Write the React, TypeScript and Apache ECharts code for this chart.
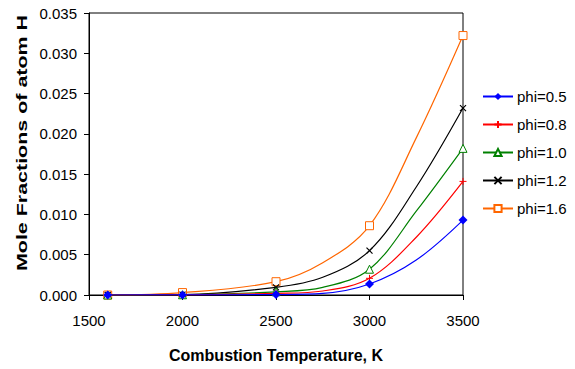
import React, { useEffect, useRef } from "react";
import * as echarts from "echarts";

const temps = [1600, 2000, 2500, 2750, 3000, 3250, 3500];
// temperatures that carry a marker in the reference (the others are unmarked curve points)
const markedTemps = [1600, 2000, 2500, 3000, 3500];

const phi05 = [0.0, 0.00001, 0.00005, 0.0002, 0.00137, 0.00434, 0.0093];
const phi08 = [0.0, 0.00002, 0.0002, 0.0005, 0.00207, 0.00717, 0.0141];
const phi10 = [0.0, 0.00003, 0.0004, 0.00095, 0.0032, 0.0104, 0.0182];
const phi12 = [0.0, 0.00005, 0.00095, 0.0022, 0.0055, 0.0134, 0.0232];
const phi16 = [0.0, 0.0003, 0.00165, 0.0040, 0.0086, 0.0195, 0.0322];

const seriesNames = ["phi=0.5", "phi=0.8", "phi=1.0", "phi=1.2", "phi=1.6"];
const seriesValues = [phi05, phi08, phi10, phi12, phi16];
const seriesColors = ["#0000FF", "#FF0000", "#008000", "#000000", "#FF6600"];

const yTicks = { min: 0, max: 0.035, interval: 0.005 };
const xTicks = { min: 1500, max: 3500, interval: 500 };

const PLUS = "path://M5,0L5,10M0,5L10,5";
const CROSS = "path://M0,0L10,10M10,0L0,10";

const markerStyles = [
  { symbol: "diamond", symbolSize: 9, itemStyle: { color: "#0000FF" } },
  {
    symbol: PLUS,
    symbolSize: 7,
    itemStyle: { color: "transparent", borderColor: "#FF0000", borderWidth: 1 },
  },
  {
    symbol: "triangle",
    symbolSize: 8,
    itemStyle: { color: "#FFFFFF", borderColor: "#008000", borderWidth: 1 },
  },
  {
    symbol: CROSS,
    symbolSize: 6,
    itemStyle: { color: "transparent", borderColor: "#000000", borderWidth: 1.2 },
  },
  {
    symbol: "rect",
    symbolSize: 8,
    itemStyle: { color: "#FFFFFF", borderColor: "#FF6600", borderWidth: 1 },
  },
];

const FONT = "Liberation Sans, Arial, sans-serif";

export default function App() {
  const ref = useRef<HTMLDivElement>(null);

  useEffect(() => {
    if (!ref.current) return;
    const chart = echarts.init(ref.current, undefined, { renderer: "svg" });

    const series = seriesNames.map((name, i) => ({
      name,
      type: "line",
      smooth: 0.35,
      color: seriesColors[i],
      lineStyle: { color: seriesColors[i], width: 1.2 },
      ...markerStyles[i],
      data: temps.map((t, k) => {
        const item: any = { value: [t, seriesValues[i][k]] };
        if (!markedTemps.includes(t)) item.symbol = "none";
        return item;
      }),
      z: 10 - i,
    }));

    chart.setOption({
      animation: false,
      backgroundColor: "#FFFFFF",
      textStyle: { fontFamily: FONT },
      grid: {
        left: 89,
        right: 112,
        top: 13,
        bottom: 74,
        show: true,
        borderColor: "#000000",
        borderWidth: 1,
        backgroundColor: "transparent",
      },
      legend: {
        orient: "vertical",
        left: 482,
        top: 89,
        padding: 0,
        itemWidth: 30,
        itemHeight: 9,
        itemGap: 13,
        textStyle: { fontSize: 15, color: "#000", fontFamily: FONT, padding: [0, 0, 0, -1] },
        data: seriesNames,
      },
      xAxis: {
        type: "value",
        min: xTicks.min,
        max: xTicks.max,
        interval: xTicks.interval,
        name: "Combustion Temperature, K",
        nameLocation: "middle",
        nameGap: 52,
        nameTextStyle: { fontSize: 16, fontWeight: "bold", color: "#000", fontFamily: FONT },
        axisLine: { show: true, lineStyle: { color: "#000", width: 1 } },
        axisTick: { show: true, inside: false, length: 5, lineStyle: { color: "#000" } },
        axisLabel: {
          fontSize: 15,
          color: "#000",
          margin: 18,
          fontFamily: FONT,
          formatter: (v: number) => String(v),
        },
        splitLine: { show: false },
      },
      yAxis: {
        type: "value",
        min: yTicks.min,
        max: yTicks.max,
        interval: yTicks.interval,
        axisLine: { show: true, lineStyle: { color: "#000", width: 1 } },
        axisTick: { show: true, inside: false, length: 5, lineStyle: { color: "#000" } },
        axisLabel: {
          fontSize: 15,
          color: "#000",
          margin: 12,
          fontFamily: FONT,
          formatter: (v: number) => v.toFixed(3),
        },
        splitLine: { show: false },
      },
      graphic: [
        {
          type: "text",
          x: 22,
          y: 143,
          rotation: Math.PI / 2,
          scaleX: 1.43,
          style: {
            text: "Mole Fractions of atom H",
            fontSize: 15,
            fontWeight: "bold",
            fontFamily: FONT,
            fill: "#000",
            textAlign: "center",
            textVerticalAlign: "middle",
          },
        },
      ],
      series,
    });

    return () => chart.dispose();
  }, []);

  return (
    <div
      ref={ref}
      style={{ position: "fixed", left: 0, top: 0, width: 575, height: 369 }}
    />
  );
}
